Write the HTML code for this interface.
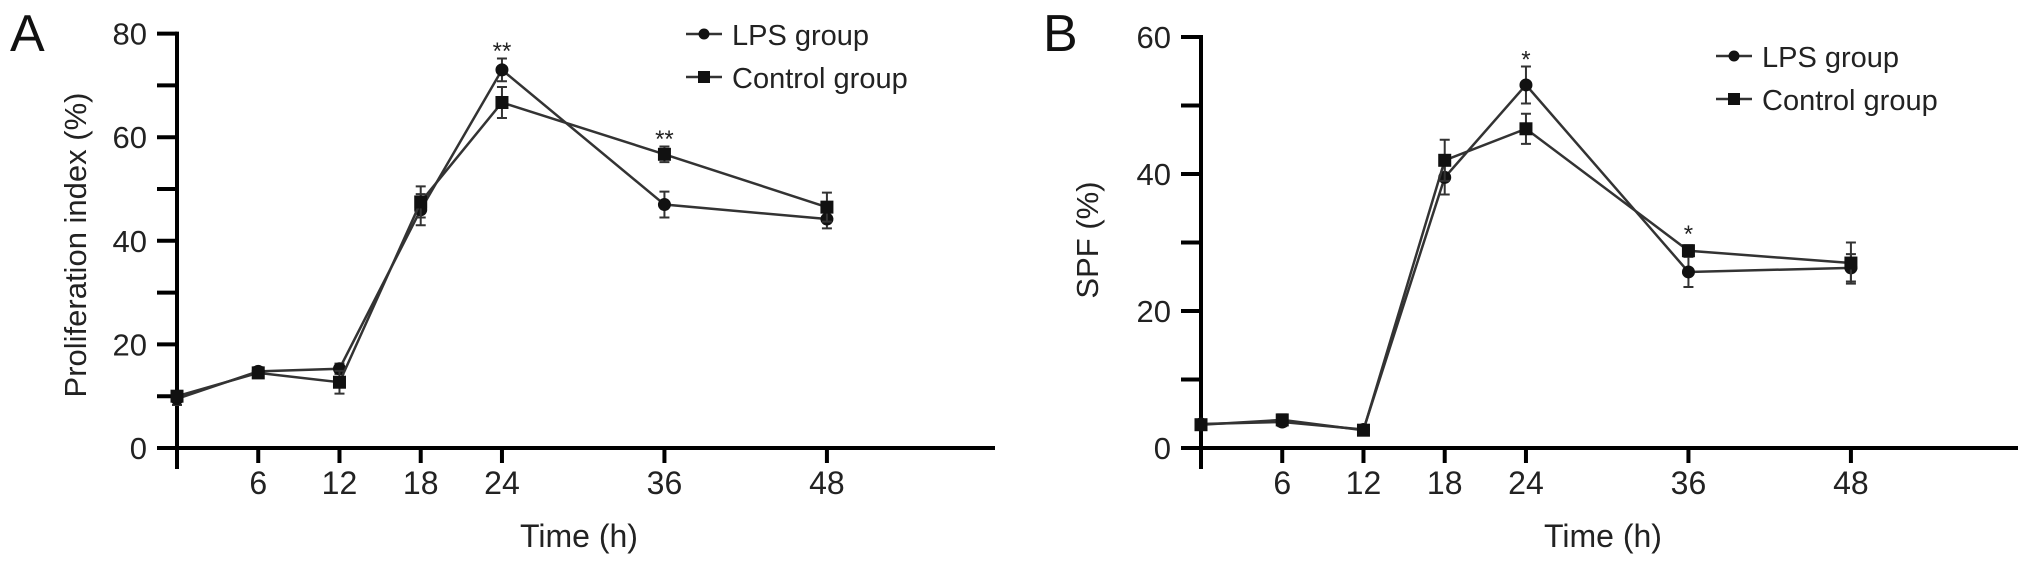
<!DOCTYPE html>
<html><head><meta charset="utf-8"><style>
html,body{margin:0;padding:0;background:#fff;}
svg{display:block;font-family:"Liberation Sans",Arial,sans-serif;}
</style></head><body>
<svg id="fig" width="2031" height="568" viewBox="0 0 2031 568" xmlns="http://www.w3.org/2000/svg"></svg>
<script>
const times = [0, 6, 12, 18, 24, 36, 48];
const xTicks = [6, 12, 18, 24, 36, 48];
// Panel A
const aLps = [9.5, 14.8, 15.3, 46, 73, 47, 44.2];
const aLpsErr = [1.2, 0.8, 1.0, 3, 2.2, 2.5, 1.8];
const aCtrl = [10, 14.5, 12.7, 47.5, 66.7, 56.7, 46.5];
const aCtrlErr = [1, 0.8, 2.2, 3, 3, 1.5, 2.8];
const aYTicks = [0, 20, 40, 60, 80];
const aStars = [[24, 77, "**"], [36, 60, "**"]];
// Panel B
const bLps = [3.5, 3.8, 2.7, 39.5, 53, 25.7, 26.3];
const bLpsErr = [0.6, 0.6, 0.4, 2.5, 2.7, 2.2, 2];
const bCtrl = [3.4, 4.1, 2.6, 42, 46.6, 28.8, 27];
const bCtrlErr = [0.5, 0.8, 0.4, 3, 2.2, 0.8, 3];
const bYTicks = [0, 20, 40, 60];
const bStars = [[24, 57, "*"], [36, 31.5, "*"]];

const NS = "http://www.w3.org/2000/svg";
const svg = document.getElementById("fig");
const BASE = 448;
function el(tag, attrs, parent, text) {
  const e = document.createElementNS(NS, tag);
  for (const k in attrs) e.setAttribute(k, attrs[k]);
  if (text !== undefined) e.textContent = text;
  (parent || svg).appendChild(e);
  return e;
}

function panel(cfg) {
  const g = el("g", {});
  
  
  const x = t => cfg.x0 + t * 13.54;
  const y = v => BASE - v * cfg.ppu;
  const stroke = "#000";
  const ya = el("line", {x1: cfg.x0, y1: y(cfg.ymax) - 2, x2: cfg.x0, y2: 469, stroke, "stroke-width": 4}, g);
  
  
  const xa = el("line", {x1: cfg.x0 - 20, y1: BASE, x2: cfg.xend, y2: BASE, stroke, "stroke-width": 4}, g);
  
  
  for (let v = 0; v <= cfg.ymax; v += 10) {
    const tk = el("line", {x1: cfg.x0 - 20, y1: y(v), x2: cfg.x0, y2: y(v), stroke, "stroke-width": 4}, g);
    
    
  }
  cfg.yTicks.forEach(v => {
    const t = el("text", {x: cfg.x0 - 30, y: y(v) + 11, "font-size": 31, "text-anchor": "end", fill: "#222"}, g, String(v));
    
    
  });
  xTicks.forEach(t => {
    const tk = el("line", {x1: x(t), y1: BASE, x2: x(t), y2: BASE + 15, stroke, "stroke-width": 4}, g);
    
    
    const lb = el("text", {x: x(t), y: 494, "font-size": 32, "text-anchor": "middle", fill: "#222"}, g, String(t));
    
    
  });
  const xt = el("text", {x: cfg.x0 + 402, y: 547, "font-size": 32, "text-anchor": "middle", fill: "#222"}, g, "Time (h)");
  
  
  const yt = el("text", {x: 0, y: 0, "font-size": 31, "text-anchor": "middle", fill: "#222", transform: `translate(${cfg.ytx},${cfg.yty}) rotate(-90)`}, g, cfg.ytitle);
  
  
  const pl = el("text", {x: cfg.lx, y: 51, "font-size": 52, fill: "#111"}, g, cfg.label);
  
  

  function series(vals, errs, shape, name) {
    const sg = el("g", {}, g);
    
    
    const pts = times.map((t, i) => x(t) + "," + y(vals[i])).join(" ");
    el("polyline", {points: pts, fill: "none", stroke: "#333", "stroke-width": 2.5}, sg);
    times.forEach((t, i) => {
      const cx = x(t), cy = y(vals[i]), e = errs[i] * cfg.ppu;
      const eb = el("path", {d: `M${cx},${cy - e}V${cy + e}M${cx - 5},${cy - e}H${cx + 5}M${cx - 5},${cy + e}H${cx + 5}`, stroke: "#333", "stroke-width": 2, fill: "none"}, sg);
      
      
      let m;
      if (shape === "c") m = el("circle", {cx, cy, r: 6.5, fill: "#111"}, sg);
      else m = el("rect", {x: cx - 6.5, y: cy - 6.5, width: 13, height: 13, fill: "#111"}, sg);
      
      
    });
  }
  series(cfg.lps, cfg.lpsErr, "c", "lps-series");
  series(cfg.ctrl, cfg.ctrlErr, "s", "control-series");
  cfg.stars.forEach(s => {
    const st = el("text", {x: x(s[0]), y: y(s[1]) + 10, "font-size": 24, "text-anchor": "middle", fill: "#222"}, g, s[2]);
    
    
  });
  const lg = el("g", {}, g);
  
  
  [["LPS group", "c", cfg.legy], ["Control group", "s", cfg.legy + 43]].forEach(l => {
    const eg = el("g", {}, lg);
    
    
    el("line", {x1: cfg.legx, y1: l[2], x2: cfg.legx + 36, y2: l[2], stroke: "#333", "stroke-width": 2.5}, eg);
    if (l[1] === "c") el("circle", {cx: cfg.legx + 18, cy: l[2], r: 5.5, fill: "#111"}, eg);
    else el("rect", {x: cfg.legx + 12, y: l[2] - 6, width: 12, height: 12, fill: "#111"}, eg);
    el("text", {x: cfg.legx + 46, y: l[2] + 11, "font-size": 29, fill: "#222"}, eg, l[0]);
  });
}

panel({name: "panel-a", x0: 177, xend: 995, ppu: 5.18, ymax: 80, yTicks: aYTicks,
  lps: aLps, lpsErr: aLpsErr, ctrl: aCtrl, ctrlErr: aCtrlErr, stars: aStars,
  ytitle: "Proliferation index (%)", ytx: 86, yty: 245, label: "A", lx: 10,
  legx: 686, legy: 34});
panel({name: "panel-b", x0: 1201, xend: 2018, ppu: 6.85, ymax: 60, yTicks: bYTicks,
  lps: bLps, lpsErr: bLpsErr, ctrl: bCtrl, ctrlErr: bCtrlErr, stars: bStars,
  ytitle: "SPF (%)", ytx: 1098, yty: 240, label: "B", lx: 1043,
  legx: 1716, legy: 56});
</script>
</body></html>
